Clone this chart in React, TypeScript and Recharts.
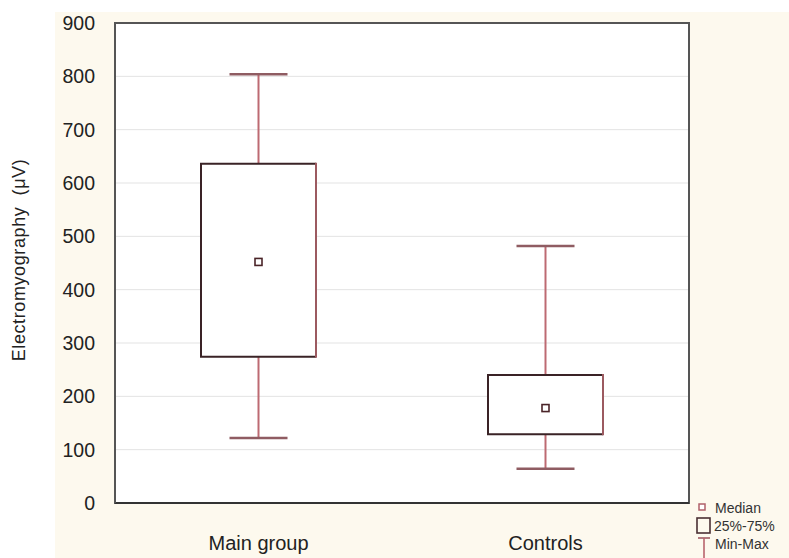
import React from 'react';
import { ComposedChart, Bar, XAxis, YAxis, CartesianGrid, ReferenceArea } from 'recharts';

const categories = ['Main group', 'Controls'];
const minValues = [122, 64];
const q1Values = [274, 129];
const medianValues = [452, 178];
const q3Values = [636, 240];
const maxValues = [804, 482];
const yTicks = [0, 100, 200, 300, 400, 500, 600, 700, 800, 900];
const legendLabels = ['Median', '25%-75%', 'Min-Max'];

const data = categories.map((name, i) => ({
  name,
  range: [minValues[i], maxValues[i]],
  min: minValues[i],
  q1: q1Values[i],
  median: medianValues[i],
  q3: q3Values[i],
  max: maxValues[i],
}));

const FONT = '"Liberation Sans", Arial, Helvetica, sans-serif';
const WHISKER = '#bd6a72';
const CAP = '#8f5c62';
const BOX_DARK = '#3a2326';
const BOX_RED = '#9c5a60';

const BoxShape = (props: any) => {
  const { x, y, width, height, payload } = props;
  if (!payload) return null;
  const h = Math.abs(height);
  const top = height < 0 ? y + height : y;
  const span = payload.max - payload.min;
  const k = h / span;
  const yOf = (v: number) => top + (payload.max - v) * k;
  const cx = x + width / 2;
  const capHalf = 29;
  const yMax = yOf(payload.max);
  const yMin = yOf(payload.min);
  const yQ1 = yOf(payload.q1);
  const yQ3 = yOf(payload.q3);
  const yMed = yOf(payload.median);
  return (
    <g>
      <line x1={cx} x2={cx} y1={yMax} y2={yQ3} stroke={WHISKER} strokeWidth={2} />
      <line x1={cx} x2={cx} y1={yQ1} y2={yMin} stroke={WHISKER} strokeWidth={2} />
      <line x1={cx - capHalf} x2={cx + capHalf} y1={yMax} y2={yMax} stroke={CAP} strokeWidth={2.5} />
      <line x1={cx - capHalf} x2={cx + capHalf} y1={yMin} y2={yMin} stroke={CAP} strokeWidth={2.5} />
      <rect x={x} y={yQ3} width={width} height={yQ1 - yQ3} fill="#ffffff" stroke="none" />
      <path d={`M${x + width},${yQ3} L${x},${yQ3} L${x},${yQ1} L${x + width},${yQ1}`} fill="none" stroke={BOX_DARK} strokeWidth={2} />
      <line x1={x + width} x2={x + width} y1={yQ3 - 1} y2={yQ1 + 1} stroke={BOX_RED} strokeWidth={2} />
      <rect x={cx - 3.5} y={yMed - 3.5} width={7} height={7} fill="#ffffff" stroke="#4a2428" strokeWidth={1.6} />
    </g>
  );
};

const LegendBox = () => (
  <svg width={94} height={58} style={{ display: 'block' }}>
    <rect x={4} y={4} width={6} height={6} fill="#fff" stroke="#b0606a" strokeWidth={1.5} />
    <text x={20} y={13} fontSize={14} fill="#333" fontFamily={FONT}>{legendLabels[0]}</text>
    <rect x={2} y={18} width={13} height={15} fill="none" stroke="#4a3034" strokeWidth={1.6} />
    <text x={19} y={31} fontSize={14} fill="#333" fontFamily={FONT}>{legendLabels[1]}</text>
    <line x1={3} x2={15} y1={38} y2={38} stroke="#a05a62" strokeWidth={1.6} />
    <line x1={9} x2={9} y1={38} y2={58} stroke="#b8646c" strokeWidth={1.6} />
    <text x={20} y={49} fontSize={14} fill="#333" fontFamily={FONT}>{legendLabels[2]}</text>
  </svg>
);

const YLabel = (props: any) => {
  const { viewBox } = props;
  const cy = viewBox.y + viewBox.height / 2 - 3;
  return (
    <text
      x={19}
      y={cy}
      transform={`rotate(-90, 19, ${cy})`}
      textAnchor="middle"
      dominantBaseline="central"
      fontSize={18}
      letterSpacing={0.6}
      fill="#222"
      fontFamily={FONT}
    >
      Electromyography {'\u00a0'}(μV)
    </text>
  );
};

export default function App() {
  return (
    <div style={{ position: 'absolute', left: 0, top: 0, width: 789, height: 558, background: '#ffffff', overflow: 'hidden' }}>
      <div style={{ position: 'absolute', left: 55, top: 12, width: 734, height: 546, background: '#fdf9ee' }} />
      <div style={{ position: 'absolute', left: 0, top: 0 }}>
        <ComposedChart
          width={789}
          height={558}
          data={data}
          margin={{ top: 23, right: 100, left: 0, bottom: 0 }}
          style={{ fontFamily: FONT }}
        >
          <CartesianGrid horizontal vertical={false} stroke="#e3e3e3" strokeWidth={1} fill="#ffffff" />
          <XAxis
            dataKey="name"
            height={55}
            axisLine={{ stroke: '#333', strokeWidth: 2 }}
            tickLine={false}
            tick={{ fill: '#222', fontSize: 20, fontFamily: FONT }}
            tickMargin={27}
          />
          <YAxis
            width={115}
            domain={[0, 900]}
            ticks={yTicks}
            interval={0}
            axisLine={{ stroke: '#555', strokeWidth: 2 }}
            tickLine={false}
            tick={{ fill: '#222', fontSize: 19.5, fontFamily: FONT }}
            tickMargin={14}
            label={<YLabel />}
          />
          <ReferenceArea y1={0} y2={900} fill="none" stroke="#555" strokeWidth={2} ifOverflow="visible" />
          <Bar dataKey="range" barSize={115} shape={<BoxShape />} isAnimationActive={false} />
        </ComposedChart>
      </div>
      <div style={{ position: 'absolute', left: 695, top: 500 }}>
        <LegendBox />
      </div>
    </div>
  );
}
